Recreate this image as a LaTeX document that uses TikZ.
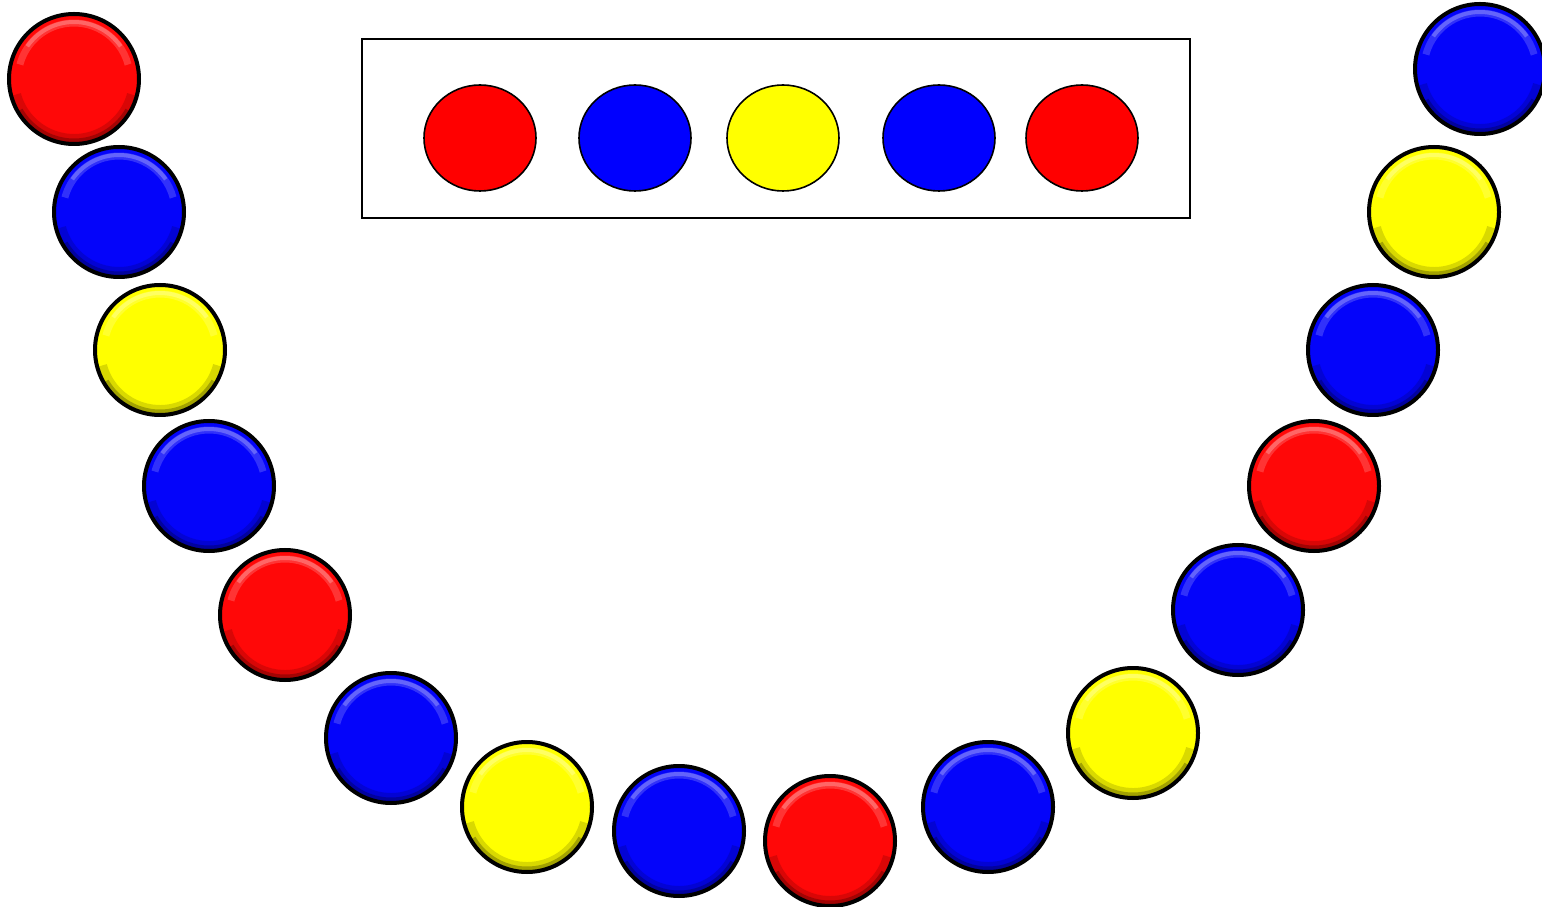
\documentclass[tikz,border=0pt]{standalone}
\usetikzlibrary{shapes.geometric}
\definecolor{beadred}{RGB}{255,8,8}
\definecolor{beadblue}{RGB}{4,4,250}
\definecolor{beadyellow}{RGB}{255,255,0}
\tikzset{
	bead/.style={circle, draw=black, line width=2pt, minimum size=65pt, inner sep=0pt,
		path picture={
			\draw[white, opacity=0.18, line width=3.5pt] (path picture bounding box.center) ++(15:56) arc[start angle=15, end angle=165, radius=56];
			\draw[white, opacity=0.25, line width=2pt] (path picture bounding box.center) ++(35:57) arc[start angle=35, end angle=145, radius=57];
			\draw[black, opacity=0.15, line width=5pt] (path picture bounding box.center) ++(195:60) arc[start angle=195, end angle=345, radius=60];
			\draw[black, opacity=0.25, line width=2.5pt] (path picture bounding box.center) ++(210:62) arc[start angle=210, end angle=330, radius=62];
		}},
	token/.style={ellipse, draw=black, line width=0.8pt, minimum width=56pt, minimum height=53pt, inner sep=0pt}
}
\begin{document}
\begin{tikzpicture}[x=0.5pt, y=0.5pt]
	\useasboundingbox (0,0) rectangle (1542,906);
	\draw[line width=0.8pt] (362,688) rectangle (1190,867);
	\foreach \x/\c [count=\i] in {480/red, 635/blue, 783/beadyellow, 939/blue, 1082/red} {
		\node[token, fill=\c] (t\i) at (\x,768) {};
	}
	\foreach \x/\y/\c [count=\i] in {74/827/beadred, 119/694/beadblue, 160/556/beadyellow, 209/420/beadblue,
		285/291/beadred, 391/168/beadblue, 527/99/beadyellow, 679/75/beadblue, 830/65/beadred,
		988/99/beadblue, 1133/173/beadyellow, 1238/296/beadblue, 1314/420/beadred,
		1373/556/beadblue, 1434/694/beadyellow, 1480/837/beadblue} {
		\node[bead, fill=\c] (b\i) at (\x,\y) {};
	}
\end{tikzpicture}
\end{document}
